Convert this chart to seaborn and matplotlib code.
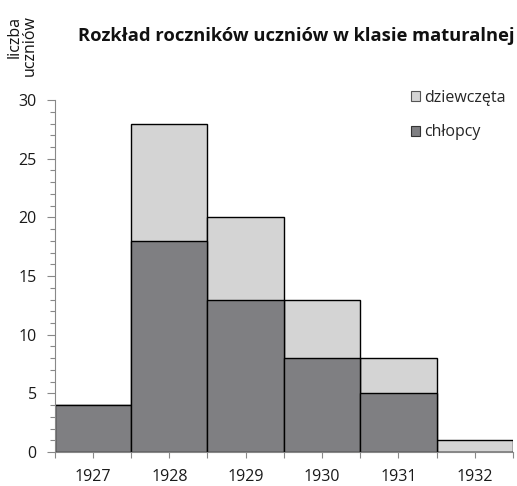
import matplotlib
matplotlib.use("Agg")
import matplotlib.pyplot as plt
import seaborn as sns
import pandas as pd
from matplotlib.ticker import MultipleLocator, FixedLocator
from matplotlib.patches import Patch

years = ["1927", "1928", "1929", "1930", "1931", "1932"]
boys = [4, 18, 13, 8, 5, 0]
girls = [0, 10, 7, 5, 3, 1]
totals = [b + g for b, g in zip(boys, girls)]

df = pd.DataFrame({"rok": years, "chlopcy": boys, "razem": totals})

sns.set_theme(style="white")
plt.rcParams["font.family"] = ["Open Sans", "DejaVu Sans"]

dark = "#7f7f82"
light = "#d4d4d4"

fig = plt.figure(figsize=(5.17, 4.86), dpi=100)
ax = fig.add_axes([0.106, 0.07, 0.886, 0.724])

sns.barplot(data=df, x="rok", y="razem", order=years, color=light, width=1.0,
            edgecolor="black", linewidth=1.0, saturation=1, ax=ax)
sns.barplot(data=df, x="rok", y="chlopcy", order=years, color=dark, width=1.0,
            edgecolor="black", linewidth=1.0, saturation=1, ax=ax)

ax.set_xlim(-0.5, 5.5)
ax.set_ylim(0, 30)
ax.set_xlabel("")
ax.set_ylabel("")
ax.yaxis.set_major_locator(MultipleLocator(5))
ax.yaxis.set_minor_locator(MultipleLocator(1))
ax.xaxis.set_minor_locator(FixedLocator([i - 0.5 for i in range(len(years) + 1)]))
ax.tick_params(axis="both", which="both", direction="out", width=0.8,
               color="#888888", labelcolor="#1a1a1a", labelsize=11.5,
               bottom=True, left=True)
ax.tick_params(axis="x", which="both", length=4)
ax.tick_params(axis="x", which="major", pad=8)
ax.tick_params(axis="y", which="major", length=6, pad=7)
ax.tick_params(axis="y", which="minor", length=3.5)
for s in ["top", "right"]:
    ax.spines[s].set_visible(False)
for s in ["left", "bottom"]:
    ax.spines[s].set_color("#888888")
    ax.spines[s].set_linewidth(0.8)

fig.text(0.151, 0.925, "Rozkład roczników uczniów w klasie maturalnej",
         fontsize=13.2, fontweight="bold", ha="left", va="center", color="#111111")
fig.text(0.043, 0.968, "liczba\nuczniów", rotation=90, fontsize=11.5,
         ha="center", va="top", multialignment="right", color="#111111",
         linespacing=0.95)

handles = [Patch(facecolor=light, edgecolor="#555555", linewidth=0.8, label="dziewczęta"),
           Patch(facecolor=dark, edgecolor="#333333", linewidth=0.8, label="chłopcy")]
fig.legend(handles=handles, loc="upper left", bbox_to_anchor=(0.782, 0.828),
           frameon=False, fontsize=11.5, handlelength=0.6, handleheight=0.6,
           handletextpad=0.25, labelspacing=1.15, borderaxespad=0)

fig.savefig("out.png", dpi=100)
